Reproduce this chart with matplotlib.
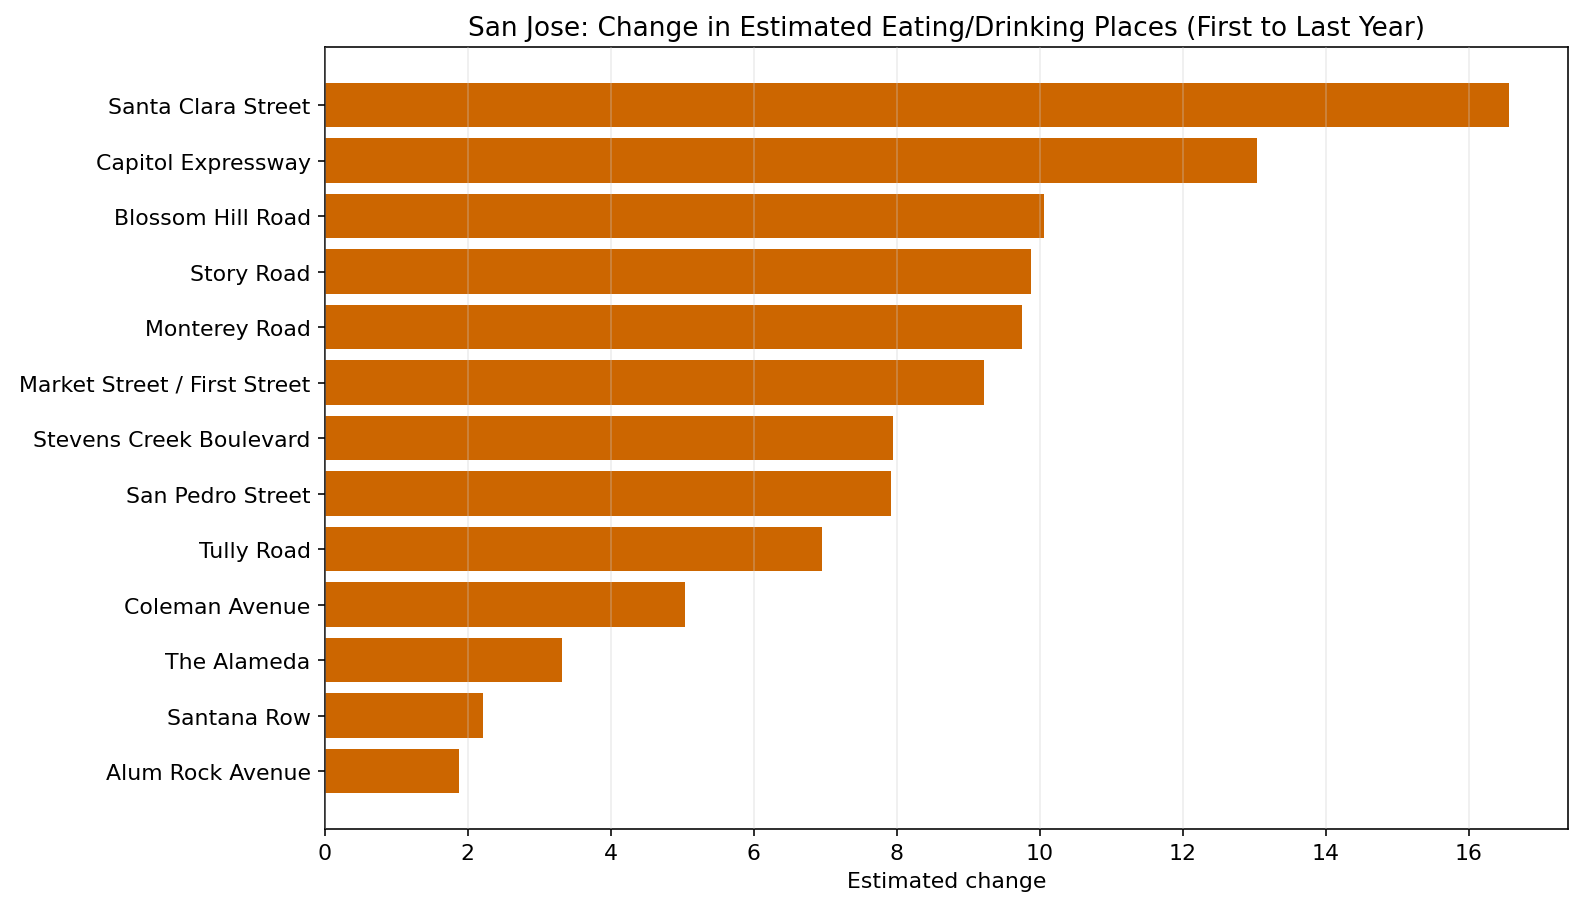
import matplotlib
matplotlib.use("Agg")
import matplotlib.pyplot as plt

streets = ["Santa Clara Street", "Capitol Expressway", "Blossom Hill Road", "Story Road",
           "Monterey Road", "Market Street / First Street", "Stevens Creek Boulevard",
           "San Pedro Street", "Tully Road", "Coleman Avenue", "The Alameda",
           "Santana Row", "Alum Rock Avenue"]
change = [16.56, 13.04, 10.06, 9.87, 9.75, 9.22, 7.95, 7.92, 6.96, 5.04, 3.32, 2.21, 1.88]

plt.rcParams["font.size"] = 11

fig, ax = plt.subplots(figsize=(11, 6.333), dpi=144)
ax.barh(streets[::-1], change[::-1], color="#cc6600")
ax.set_axisbelow(False)
ax.grid(axis="x", color="#cccccc", alpha=0.35, linewidth=0.8)
ax.set_xlabel("Estimated change")
ax.set_title("San Jose: Change in Estimated Eating/Drinking Places (First to Last Year)")
fig.subplots_adjust(left=0.205, right=0.99, top=0.947, bottom=0.09)
fig.savefig("out.png")
